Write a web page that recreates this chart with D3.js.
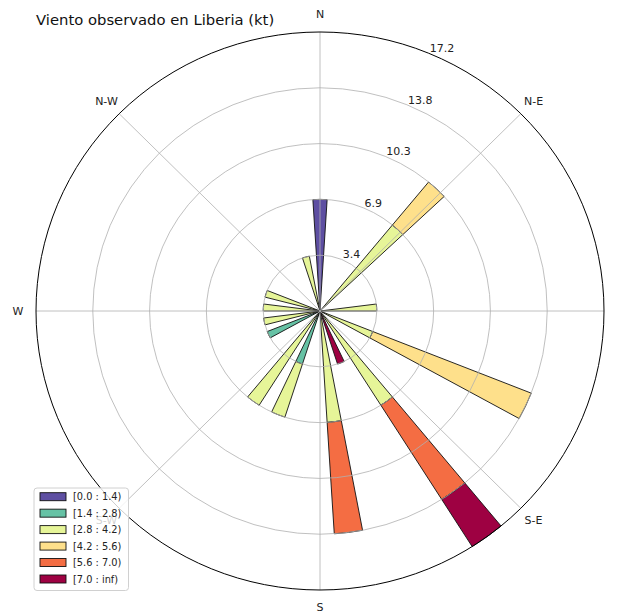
<!DOCTYPE html>
<html>
<head>
<meta charset="utf-8">
<script src="https://cdn.jsdelivr.net/npm/d3@7"></script>
<style>
  html, body { margin: 0; padding: 0; background: #fff; }
  svg { display: block; font-family: "DejaVu Sans", sans-serif; }
</style>
</head>
<body>
<svg id="chart" width="618" height="613"></svg>
<script>
// Wind directions (degrees, clockwise from north), 25 sectors
const directions = [0, 14.4, 28.8, 43.2, 57.6, 72, 86.4, 100.8, 115.2, 129.6, 144, 158.4,
  172.8, 187.2, 201.6, 216, 230.4, 244.8, 259.2, 273.6, 288, 302.4, 316.8, 331.2, 345.6];

// Speed classes (kt)
const speedBins = ["[0.0 : 1.4)", "[1.4 : 2.8)", "[2.8 : 4.2)", "[4.2 : 5.6)", "[5.6 : 7.0)", "[7.0 : inf)"];
const binColors = ["#5e4fa2", "#66c2a5", "#e6f598", "#fee08b", "#f46d43", "#9e0142"];

// Frequency (%) per direction for each speed class
const speed0 = [6.897, 0, 0, 0, 0, 0, 0, 0, 0, 0, 0, 0, 0, 0, 0, 0, 0, 0, 0, 0, 0, 0, 0, 0, 0];
const speed1 = [0, 0, 0, 0, 0, 0, 0, 0, 0, 0, 0, 0, 0, 0, 3.448, 0, 0, 3.448, 0, 0, 0, 0, 0, 0, 0];
const speed2 = [0, 0, 0, 6.897, 0, 0, 3.448, 0, 3.448, 0, 6.897, 0, 6.897, 0, 3.448, 6.897, 0, 0, 3.448, 3.448, 3.448, 0, 0, 0, 3.448];
const speed3 = [0, 0, 0, 3.448, 0, 0, 0, 0, 10.345, 0, 0, 0, 0, 0, 0, 0, 0, 0, 0, 0, 0, 0, 0, 0, 0];
const speed4 = [0, 0, 0, 0, 0, 0, 0, 0, 0, 0, 6.897, 0, 6.897, 0, 0, 0, 0, 0, 0, 0, 0, 0, 0, 0, 0];
const speed5 = [0, 0, 0, 0, 0, 0, 0, 0, 0, 0, 3.448, 3.448, 0, 0, 0, 0, 0, 0, 0, 0, 0, 0, 0, 0, 0];
const series = [speed0, speed1, speed2, speed3, speed4, speed5];

// Radial grid
const radialTicks = [3.448, 6.897, 10.345, 13.793, 17.241];
const radialTickLabels = ["3.4", "6.9", "10.3", "13.8", "17.2"];

// Compass labels
const compassAngles = [0, 45, 90, 135, 180, 225, 270, 315];
const compassLabels = ["N", "N-E", "E", "S-E", "S", "S-W", "W", "N-W"];

const titleText = "Viento observado en Liberia (kt)";

// Layout
const cx = 320, cy = 311, R = 284, ky = 0.9824;
const opening = 0.5;           // fraction of a sector covered by a bar
const sectorWidth = 360 / directions.length;

const svg = d3.select("#chart");
const rad = d => d * Math.PI / 180;
const r = d3.scaleLinear().domain([0, radialTicks[radialTicks.length - 1]]).range([0, R]);

// Polar frame in screen space
const px = (deg, rr) => cx + rr * Math.sin(rad(deg));
const py = (deg, rr) => cy - rr * Math.cos(rad(deg)) * ky;

const polar = svg.append("g").attr("transform", `translate(${cx},${cy}) scale(1,${ky})`);

// Stacked bars
const arc = d3.arc();
const offsets = directions.map(() => 0);
series.forEach((vals, i) => {
  vals.forEach((v, j) => {
    if (v <= 0) return;
    const start = offsets[j];
    offsets[j] += v;
    polar.append("path")
      .attr("d", arc({
        innerRadius: r(start),
        outerRadius: r(start + v),
        startAngle: rad(directions[j] - sectorWidth * opening / 2),
        endAngle: rad(directions[j] + sectorWidth * opening / 2)
      }))
      .attr("fill", binColors[i])
      .attr("stroke", "#111")
      .attr("stroke-width", 0.9)
      .attr("stroke-linejoin", "miter")
      .attr("vector-effect", "non-scaling-stroke");
  });
});

// Grid rings and spokes
polar.selectAll("circle.ring")
  .data(radialTicks.slice(0, -1))
  .join("circle")
  .attr("class", "ring")
  .attr("r", d => r(d))
  .attr("fill", "none")
  .attr("stroke", "#b0b0b0")
  .attr("stroke-width", 0.8)
  .attr("vector-effect", "non-scaling-stroke");

polar.selectAll("line.spoke")
  .data(compassAngles)
  .join("line")
  .attr("class", "spoke")
  .attr("x1", 0).attr("y1", 0)
  .attr("x2", d => R * Math.sin(rad(d)))
  .attr("y2", d => -R * Math.cos(rad(d)))
  .attr("stroke", "#b0b0b0")
  .attr("stroke-width", 0.8)
  .attr("vector-effect", "non-scaling-stroke");

// Outer frame
polar.append("circle")
  .attr("r", R)
  .attr("fill", "none")
  .attr("stroke", "#000")
  .attr("stroke-width", 1)
  .attr("vector-effect", "non-scaling-stroke");

// Radial tick labels
svg.selectAll("text.rlabel")
  .data(radialTicks)
  .join("text")
  .attr("class", "rlabel")
  .attr("x", d => px(22.5, r(d)) + 1)
  .attr("y", d => py(22.5, r(d)) - 1)
  .attr("font-size", 11)
  .attr("fill", "#222")
  .text((d, i) => radialTickLabels[i]);

// Compass labels
svg.selectAll("text.dir")
  .data(compassAngles)
  .join("text")
  .attr("class", "dir")
  .attr("x", d => px(d, 302))
  .attr("y", d => py(d, 302))
  .attr("text-anchor", "middle")
  .attr("dominant-baseline", "central")
  .attr("font-size", 11)
  .attr("fill", "#222")
  .text((d, i) => compassLabels[i]);

// Title
svg.append("text")
  .attr("x", 36)
  .attr("y", 25)
  .attr("font-size", 14.8)
  .attr("fill", "#111")
  .text(titleText);

// Legend (semi-transparent box drawn over the axes)
const legend = svg.append("g").attr("transform", "translate(34,488)");
legend.append("rect")
  .attr("width", 94.5).attr("height", 102.5)
  .attr("rx", 3)
  .attr("fill", "#fff").attr("fill-opacity", 0.8)
  .attr("stroke", "#d0d0d0").attr("stroke-width", 1);
const rowY = d3.scaleLinear().domain([0, speedBins.length - 1]).range([8.7, 91]);
speedBins.forEach((label, i) => {
  legend.append("rect")
    .attr("x", 6).attr("y", rowY(i) - 4)
    .attr("width", 26).attr("height", 8)
    .attr("fill", binColors[i])
    .attr("stroke", "#111").attr("stroke-width", 0.9);
  legend.append("text")
    .attr("x", 39).attr("y", rowY(i))
    .attr("dominant-baseline", "central")
    .attr("font-size", 9.8)
    .attr("fill", "#222")
    .text(label);
});
</script>
</body>
</html>
